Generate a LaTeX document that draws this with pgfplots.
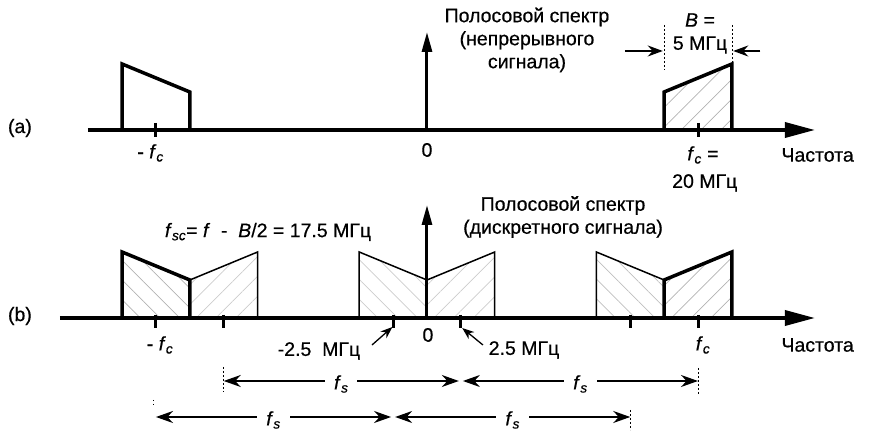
\documentclass[border=0pt]{standalone}
\usepackage{pgfplots}
\pgfplotsset{compat=1.18}
\usetikzlibrary{arrows.meta,patterns.meta}
\usepackage{fontspec}
\setmainfont{Liberation Sans}[FakeBold=0.5]

% italic f with an italic subscript
\newcommand{\fsub}[1]{\textit{f}\textsubscript{\textit{#1}}}

\begin{document}
\begin{tikzpicture}[font=\fontsize{19.5}{23}\selectfont]
\begin{axis}[
  scale only axis, width=869pt, height=435pt,
  xmin=-31.51, xmax=32.62, ymin=0, ymax=435,
  hide axis, clip=false,
  hatchR/.style={draw=none, pattern={Lines[angle=45,distance=14pt,line width=0.7pt]}, pattern color=gray!60},
  hatchL/.style={draw=none, pattern={Lines[angle=-45,distance=14pt,line width=0.7pt]}, pattern color=gray!60},
  thickband/.style={line width=3.5pt, line join=miter, no marks},
  thinband/.style={line width=1.5pt, line join=miter, no marks},
]
% ---------------- (a) spectrum of the continuous signal ----------------
\addplot[hatchR] coordinates {(17.5,305) (17.5,343) (22.5,371) (22.5,305)};
\addplot[thickband] coordinates {(-22.5,305) (-22.5,371) (-17.5,343) (-17.5,305)};
\addplot[thickband] coordinates {(17.5,305) (17.5,343) (22.5,371) (22.5,305)};
% frequency axis
\addplot[line width=3.5pt, no marks, -{Triangle[length=30pt,width=15pt]}] coordinates {(-25.02,305) (28.63,305)};
\addplot[only marks, mark=|, mark size=7pt, mark options={line width=3pt}] coordinates {(-20,305) (20,305)};
\addplot[line width=3pt, no marks, -{Triangle[length=20pt,width=10pt]}] coordinates {(0,305) (0,403)};

% ---------------- (b) spectrum of the sampled signal ----------------
\addplot[hatchL] coordinates {(-22.5,117) (-22.5,183) (-17.5,155) (-17.5,117)};
\addplot[hatchR, pattern color=gray!40] coordinates {(-17.5,117) (-17.5,155) (-12.5,183) (-12.5,117)};
\addplot[hatchL, pattern color=gray!40] coordinates {(-5,117) (-5,183) (0,155) (0,117)};
\addplot[hatchR, pattern color=gray!40] coordinates {(0,117) (0,155) (5,183) (5,117)};
\addplot[hatchL, pattern color=gray!50] coordinates {(12.5,117) (12.5,183) (17.5,155) (17.5,117)};
\addplot[hatchR] coordinates {(17.5,117) (17.5,155) (22.5,183) (22.5,117)};

\addplot[thinband] coordinates {(-17.5,155) (-12.5,183) (-12.5,117)};
\addplot[thinband] coordinates {(-5,117) (-5,183) (0,155) (5,183) (5,117)};
\addplot[thinband] coordinates {(12.5,117) (12.5,183) (17.5,155)};
\addplot[thickband] coordinates {(-22.5,117) (-22.5,183) (-17.5,155) (-17.5,117)};
\addplot[thickband] coordinates {(17.5,117) (17.5,155) (22.5,183) (22.5,117)};
% frequency axis
\addplot[line width=3.5pt, no marks, -{Triangle[length=30pt,width=15pt]}] coordinates {(-27.09,117) (28.63,117)};
\addplot[only marks, mark=|, mark size=6.5pt, mark options={line width=3pt}] coordinates {(-20,113.5) (-15,113.5) (-2.5,113.5) (2.5,113.5) (15,113.5) (20,113.5)};
\addplot[line width=3pt, no marks, -{Triangle[length=20pt,width=10pt]}] coordinates {(0,117) (0,230)};

% ---------------- labels, (a) ----------------
\node at (axis cs:-30.04,307) {(a)};
\node at (axis cs:-20.4,282) {- \fsub{c}};
\node at (axis cs:0,285) {0};
\node at (axis cs:20.37,280) {\fsub{c} =};
\node at (axis cs:20.5,252) {20 МГц};
\node[anchor=west] at (axis cs:25.9,280) {Частота};
\node[align=center] at (axis cs:7.38,395) {Полосовой спектр\\(непрерывного\\сигнала)};
\node at (axis cs:20.15,415) {\textit{B} =};
\node at (axis cs:20.15,390) {5 МГц};
\draw[line width=1.3pt, -{Stealth[length=15pt,width=11pt]}] (axis cs:14.6,384) -- (axis cs:17.4,384);
\draw[line width=1.3pt, -{Stealth[length=15pt,width=11pt]}] (axis cs:24.6,384) -- (axis cs:22.6,384);
\draw[line width=0.6pt, dash pattern=on 2pt off 2pt] (axis cs:17.5,410) -- (axis cs:17.5,365);
\draw[line width=0.6pt, dash pattern=on 2pt off 2pt] (axis cs:22.5,410) -- (axis cs:22.5,371);

% ---------------- labels, (b) ----------------
\node at (axis cs:-30.04,119) {(b)};
\node at (axis cs:-11.73,203) {\fsub{sc}= \textit{f}\ \ -\ \ \textit{B}/2 = 17.5 МГц};
\node[align=center] at (axis cs:10.04,218) {Полосовой спектр\\(дискретного сигнала)};
\node at (axis cs:-19.7,90) {- \fsub{c}};
\node at (axis cs:-7.97,84) {-2.5\ \ МГц};
\draw[line width=1.3pt, -{Stealth[length=12pt,width=9pt]}] (axis cs:-4.06,90) -- (axis cs:-2.55,108);
\node at (axis cs:0.07,100) {0};
\draw[line width=1.3pt, -{Stealth[length=12pt,width=9pt]}] (axis cs:4.13,90) -- (axis cs:2.6,107);
\node at (axis cs:7.16,85) {2.5 МГц};
\node at (axis cs:20.37,90) {\fsub{c}};
\node[anchor=west] at (axis cs:25.9,90) {Частота};

% sampling-frequency spans
\draw[line width=1.3pt, {Stealth[length=17pt,width=12pt]}-{Stealth[length=17pt,width=12pt]}]
  (axis cs:-15,54) -- node[fill=white, inner xsep=9pt, inner ysep=1pt, yshift=-3pt] {\fsub{s}} (axis cs:2.35,54);
\draw[line width=1.3pt, {Stealth[length=17pt,width=12pt]}-{Stealth[length=17pt,width=12pt]}]
  (axis cs:2.65,54) -- node[fill=white, inner xsep=9pt, inner ysep=1pt, yshift=-3pt] {\fsub{s}} (axis cs:20,54);
\draw[line width=1.3pt, {Stealth[length=17pt,width=12pt]}-{Stealth[length=17pt,width=12pt]}]
  (axis cs:-20,18) -- node[fill=white, inner xsep=9pt, inner ysep=1pt, yshift=-3pt] {\fsub{s}} (axis cs:-2.65,18);
\draw[line width=1.3pt, {Stealth[length=17pt,width=12pt]}-{Stealth[length=17pt,width=12pt]}]
  (axis cs:-2.35,18) -- node[fill=white, inner xsep=9pt, inner ysep=1pt, yshift=-3pt] {\fsub{s}} (axis cs:15,18);
\draw[line width=0.6pt, dash pattern=on 2pt off 2pt] (axis cs:-15,68) -- (axis cs:-15,43);
\draw[line width=0.6pt, dash pattern=on 2pt off 2pt] (axis cs:20,67) -- (axis cs:20,40);
\draw[line width=0.6pt, dash pattern=on 2pt off 2pt] (axis cs:15,25) -- (axis cs:15,5);
\draw[line width=0.6pt, dash pattern=on 1pt off 3pt] (axis cs:-20.2,35) -- (axis cs:-20.2,28);
\end{axis}
\pgfresetboundingbox
\path (current axis.south west) rectangle (current axis.north east);
\end{tikzpicture}
\end{document}
